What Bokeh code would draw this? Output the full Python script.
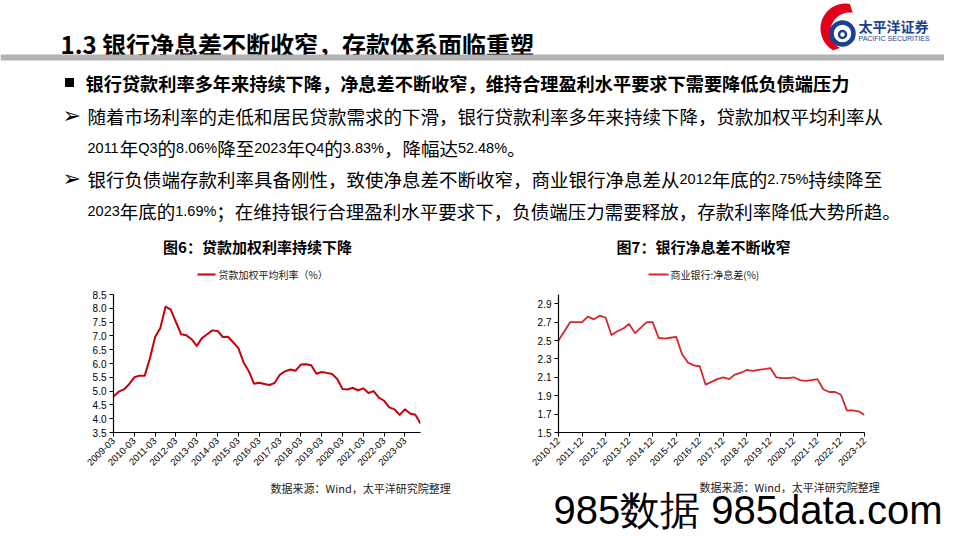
import math
from itertools import groupby
import numpy as np
from bokeh.plotting import figure
from bokeh.models import Range1d, FixedTicker, PrintfTickFormatter
from bokeh.layouts import column, row
from bokeh.core.properties import value
from bokeh.embed import file_html
from bokeh.resources import INLINE

# ---------------- data ----------------
years1 = list(range(2009, 2024))
quarters = ["03", "06", "09", "12"]
dates1 = [f"{y}-{q}" for y in years1 for q in quarters]          # 2009-03 .. 2023-12
loan_rate = [4.80, 4.98, 5.06, 5.25,
             5.50, 5.56, 5.56, 6.19,
             6.96, 7.29, 8.06, 7.95,
             7.50, 7.06, 7.02, 6.88,
             6.64, 6.92, 7.06, 7.20,
             7.18, 6.96, 6.97, 6.77,
             6.56, 6.04, 5.72, 5.27,
             5.30, 5.26, 5.22, 5.30,
             5.60, 5.72, 5.78, 5.74,
             5.96, 5.97, 5.94, 5.63,
             5.69, 5.66, 5.62, 5.44,
             5.08, 5.06, 5.12, 5.03,
             5.10, 4.93, 5.00, 4.76,
             4.65, 4.41, 4.34, 4.14,
             4.34, 4.19, 4.14, 3.83]

dates2 = ["2010-12"] + [f"{y}-{q}" for y in range(2011, 2024) for q in quarters]  # 2010-12 .. 2023-12
nim = [2.50,
       2.60, 2.70, 2.70, 2.70,
       2.76, 2.73, 2.77, 2.75,
       2.56, 2.60, 2.63, 2.68,
       2.58, 2.64, 2.70, 2.70,
       2.53, 2.52, 2.53, 2.54,
       2.35, 2.26, 2.23, 2.22,
       2.02, 2.05, 2.08, 2.10,
       2.08, 2.13, 2.15, 2.18,
       2.17, 2.18, 2.19, 2.20,
       2.10, 2.09, 2.09, 2.10,
       2.07, 2.06, 2.07, 2.08,
       1.97, 1.94, 1.94, 1.91,
       1.74, 1.74, 1.73, 1.69]

yticks1 = [3.5, 4.0, 4.5, 5.0, 5.5, 6.0, 6.5, 7.0, 7.5, 8.0, 8.5]
yticks2 = [1.5, 1.7, 1.9, 2.1, 2.3, 2.5, 2.7, 2.9]

title_text = "1.3 银行净息差不断收窄，存款体系面临重塑"
bullet_head = "银行贷款利率多年来持续下降，净息差不断收窄，维持合理盈利水平要求下需要降低负债端压力"
body_lines = ["随着市场利率的走低和居民贷款需求的下滑，银行贷款利率多年来持续下降，贷款加权平均利率从",
              "2011年Q3的8.06%降至2023年Q4的3.83%，降幅达52.48%。",
              "银行负债端存款利率具备刚性，致使净息差不断收窄，商业银行净息差从2012年底的2.75%持续降至",
              "2023年底的1.69%；在维持银行合理盈利水平要求下，负债端压力需要释放，存款利率降低大势所趋。"]
chart1_title = "图6：贷款加权利率持续下降"
chart2_title = "图7：银行净息差不断收窄"
legend1 = "贷款加权平均利率（%）"
legend2 = "商业银行:净息差(%)"
source_text = "数据来源：Wind，太平洋研究院整理"
watermark = "985数据 985data.com"

CJK = value("Noto Sans CJK SC")
LAT = value("Liberation Sans")
RED1 = "#c8000a"
RED2 = "#d8262b"
BLUE = "#1c3f94"

# approximate Arial/Liberation Sans advance widths (em) for laying out mixed runs
LAT_W = {"0": 0.556, "1": 0.556, "2": 0.556, "3": 0.556, "4": 0.556, "5": 0.556, "6": 0.556,
         "7": 0.556, "8": 0.556, "9": 0.556, ".": 0.278, "%": 0.889, "Q": 0.778, " ": 0.278}


def blank(w, h, x0, x1, ytop, ybot):
    p = figure(width=w, height=h, x_range=Range1d(x0, x1), y_range=Range1d(ybot, ytop),
               output_backend="svg", toolbar_location=None, min_border=0,
               x_axis_type=None, y_axis_type=None)
    p.grid.visible = False
    p.outline_line_color = None
    p.background_fill_color = "white"
    p.border_fill_color = "white"
    return p


def rich_line(p, x0, yc, s, fs_c, fs_l, bold=False):
    """Draw a line of mixed CJK / Latin text: CJK runs in Noto Sans CJK, Latin runs narrower."""
    xc, tc, xl, tl = [], [], [], []
    x = x0
    for is_lat, grp in groupby(s, key=lambda ch: ord(ch) < 128):
        seg = "".join(grp)
        if is_lat:
            xl.append(x); tl.append(seg)
            x += sum(LAT_W.get(ch, 0.556) for ch in seg) * fs_l
        else:
            xc.append(x); tc.append(seg)
            x += len(seg) * fs_c
    style = "bold" if bold else "normal"
    if tc:
        p.text(x=xc, y=[yc] * len(xc), text=tc, text_font=CJK, text_font_size=f"{fs_c}px",
               text_font_style=style, text_color="black", text_baseline="middle")
    if tl:
        p.text(x=xl, y=[yc + 0.5] * len(xl), text=tl, text_font=LAT, text_font_size=f"{fs_l}px",
               text_font_style=style, text_color="black", text_baseline="middle")


# ---------------- header (slide y 0..288) ----------------
hd = blank(944, 288, 0, 944, 0, 288)
hd.text(x=[60], y=[42.5], text=[title_text], text_font=CJK, text_font_size="24px",
        text_font_style="bold", text_color="black", text_baseline="middle")
hd.quad(left=[0], right=[944], top=[54], bottom=[60], fill_color="#b3b3b3", line_color=None)

# logo
t = np.radians(np.linspace(80, 240, 40))
ox = 845 + 25 * np.cos(t); oy = 28 - 25 * np.sin(t)
t2 = t[::-1]
ix = 849 + 19 * np.cos(t2); iy = 31 - 19 * np.sin(t2)
hd.patch(x=list(ox) + list(ix), y=list(oy) + list(iy), fill_color="#e3001b", line_color=None)
hd.circle(x=[842], y=[33], radius=11, fill_color=None, line_color=BLUE, line_width=4.5)
hd.circle(x=[842], y=[34], radius=3.5, fill_color=None, line_color=BLUE, line_width=2.5)
hd.text(x=[858], y=[25], text=["太平洋证券"], text_font=CJK, text_font_size="14px",
        text_font_style="bold", text_color=BLUE, text_baseline="middle")
hd.text(x=[858], y=[38], text=["PACIFIC SECURITIES"], text_font=LAT,
        text_font_size="7px", text_color=BLUE, text_baseline="middle")

# bullets
hd.scatter(x=[69], y=[82], marker="square", size=9, fill_color="black", line_color=None)
rich_line(hd, 85, 82, bullet_head, 18.2, 14.5, bold=True)
line_y = [115, 147, 178, 210]
hd.text(x=[62, 62], y=[line_y[0], line_y[2]], text=["➢", "➢"], text_font=value("DejaVu Sans"),
        text_font_size="22px", text_color="black", text_baseline="middle")
for yy, s in zip(line_y, body_lines):
    rich_line(hd, 87, yy, s, 18.5, 14.5)

# chart titles & legends
hd.text(x=[257, 703], y=[246, 246], text=[chart1_title, chart2_title], text_font=CJK,
        text_font_size="15px", text_font_style="bold", text_color="black",
        text_align="center", text_baseline="middle")
hd.line(x=[197, 215], y=[274, 274], line_color=RED1, line_width=2)
hd.line(x=[648, 668], y=[274, 274], line_color=RED2, line_width=2)
hd.text(x=[218, 670], y=[274, 274], text=[legend1, legend2], text_font=CJK,
        text_font_size="10px", text_color="#222222", text_baseline="middle")


# ---------------- charts (slide y 288..478) ----------------
def style_chart(p, xticks, xlabels, yticks):
    p.grid.visible = False
    p.outline_line_color = None
    p.background_fill_color = "white"
    p.border_fill_color = "white"
    for ax in (p.xaxis[0], p.yaxis[0]):
        ax.axis_line_color = "black"
        ax.axis_line_width = 1.2
        ax.major_tick_line_color = "black"
        ax.major_tick_out = 4
        ax.major_tick_in = 0
        ax.minor_tick_line_color = None
        ax.major_label_text_font = "Liberation Sans"
        ax.major_label_text_font_size = "10px"
        ax.major_label_text_color = "black"
        ax.major_label_standoff = 3
    p.xaxis.ticker = FixedTicker(ticks=xticks)
    p.xaxis.major_label_overrides = {k: v for k, v in zip(xticks, xlabels)}
    p.xaxis.major_label_orientation = math.pi / 4
    p.xaxis.major_label_text_font_size = "9.5px"
    p.yaxis.ticker = FixedTicker(ticks=yticks)
    p.yaxis.formatter = PrintfTickFormatter(format="%.1f")


x1 = list(range(len(loan_rate)))
c1 = figure(width=472, height=190, x_range=Range1d(0, len(loan_rate) - 1), y_range=Range1d(3.5, 8.5),
            output_backend="svg", toolbar_location=None,
            min_border_left=113, min_border_right=52, min_border_top=6, min_border_bottom=45)
xt1 = list(range(0, len(loan_rate), 4))
style_chart(c1, xt1, [dates1[i] for i in xt1], yticks1)
c1.line(x=x1, y=loan_rate, line_color=RED1, line_width=2, line_join="round")

x2 = list(range(len(nim)))
c2 = figure(width=472, height=190, x_range=Range1d(0, len(nim) - 1), y_range=Range1d(1.5, 3.0),
            output_backend="svg", toolbar_location=None,
            min_border_left=86, min_border_right=80, min_border_top=5, min_border_bottom=46)
xt2 = list(range(0, len(nim), 4))
style_chart(c2, xt2, [dates2[i] for i in xt2], yticks2)
c2.line(x=x2, y=nim, line_color=RED2, line_width=1.8, line_join="round")

# ---------------- footer (slide y 478..532) ----------------
ft = blank(944, 54, 0, 944, 478, 532)
ft.text(x=[270, 699], y=[487, 486], text=[source_text, source_text], text_font=CJK,
        text_font_size="11px", text_color="#222222", text_baseline="middle")
ft.text(x=[553], y=[509], text=[watermark], text_font=LAT,
        text_font_size="40px", text_color="black", text_baseline="middle")

layout = column(hd, row(c1, c2, spacing=0), ft, spacing=0)
open("out.html", "w").write(file_html(layout, INLINE))
